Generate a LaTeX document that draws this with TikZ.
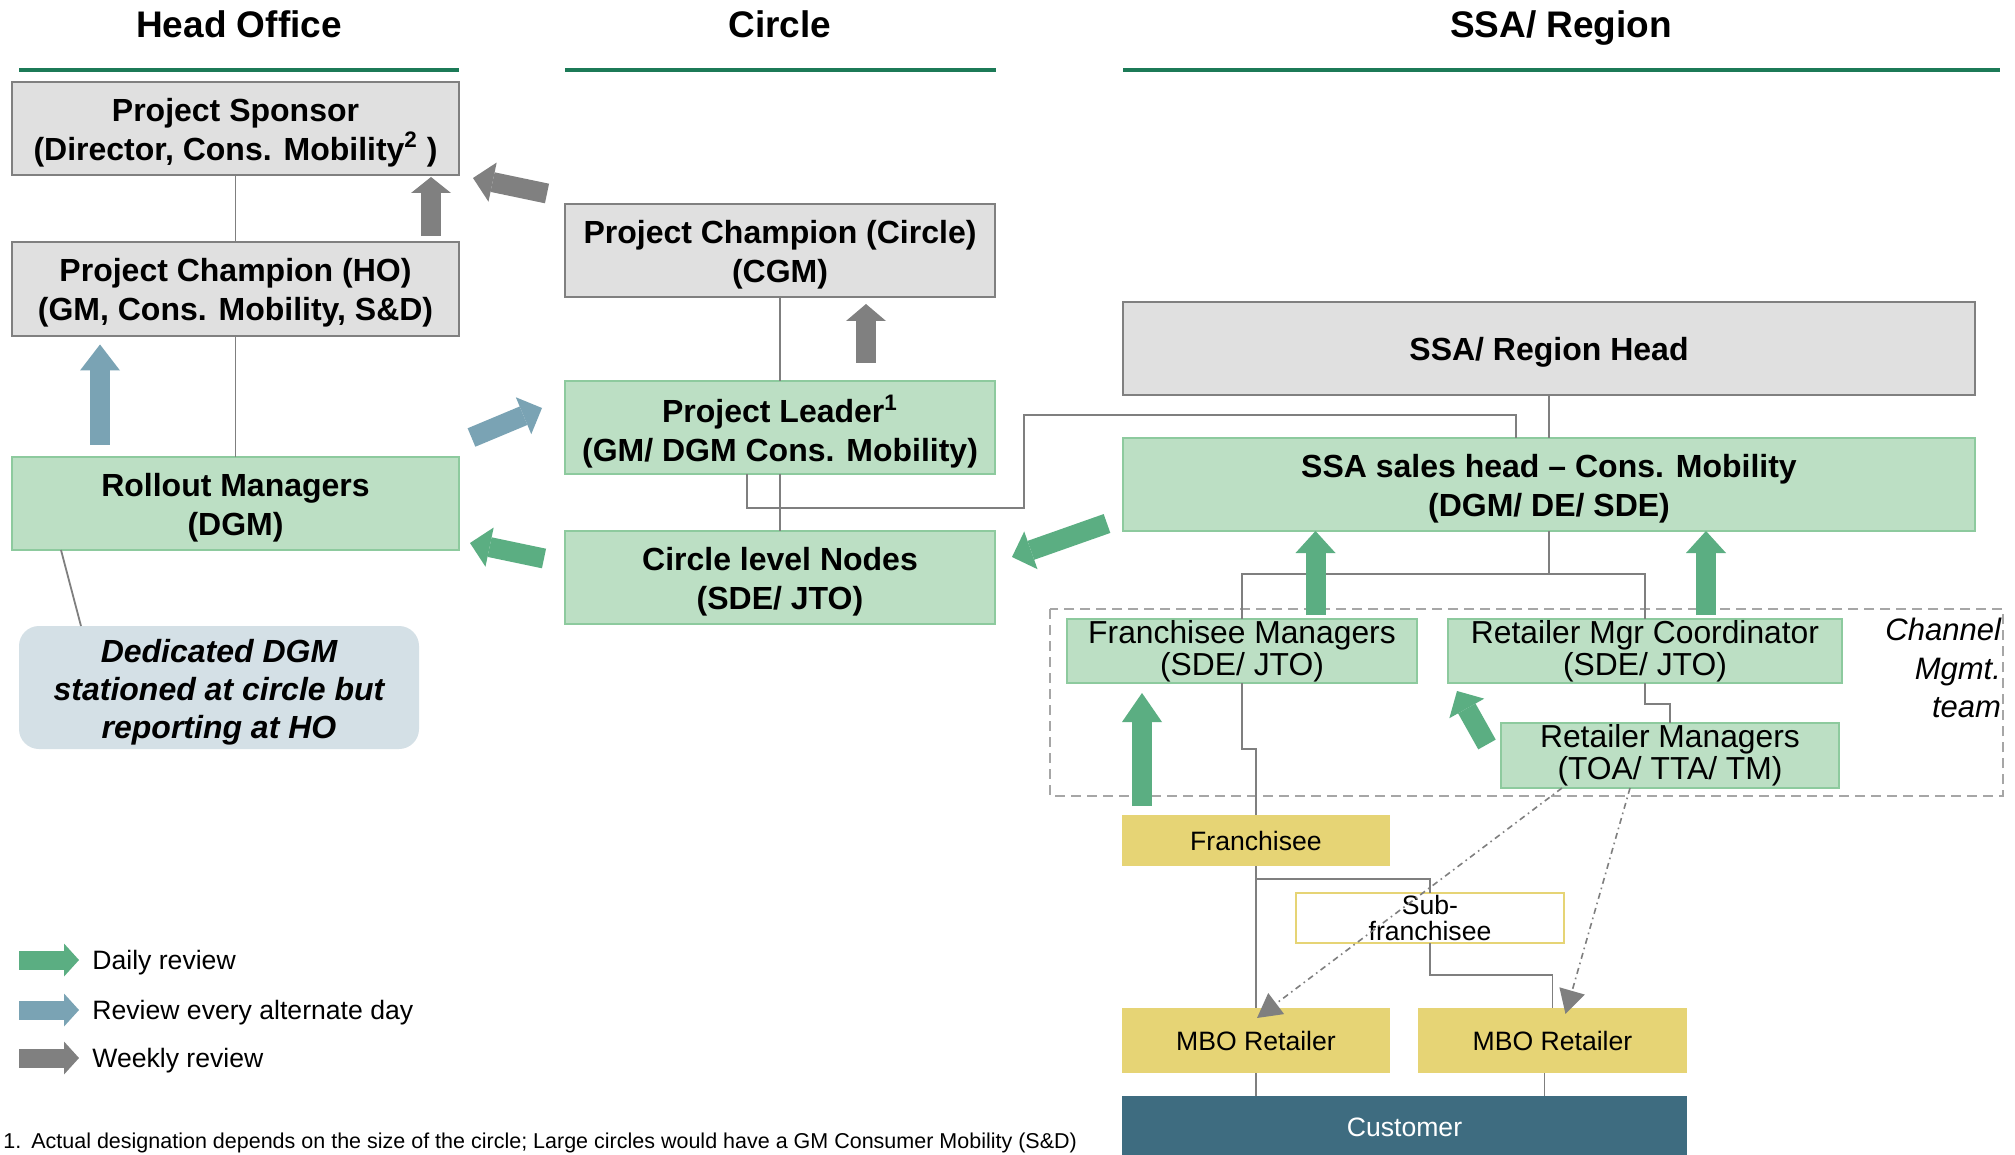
\documentclass[tikz,border=0pt]{standalone}
\usepackage{fontspec}
\setmainfont{Liberation Sans}
\usetikzlibrary{arrows.meta,calc}

\definecolor{hdgreen}{HTML}{1C7A57}
\definecolor{boxgray}{HTML}{E0E0E0}
\definecolor{edgegray}{HTML}{808080}
\definecolor{boxgreen}{HTML}{BCDFC4}
\definecolor{edgegreen}{HTML}{8DCA9E}
\definecolor{boxyellow}{HTML}{E6D475}
\definecolor{custteal}{HTML}{3E6C80}
\definecolor{notefill}{HTML}{D4E0E6}
\definecolor{arrgreen}{HTML}{5BAE82}
\definecolor{arrblue}{HTML}{7AA3B4}
\definecolor{arrgray}{HTML}{808080}
\definecolor{linegray}{HTML}{7F7F7F}
\definecolor{dashgray}{HTML}{A6A6A6}

% font sizes
\newcommand\titlefont{\fontsize{18.5}{22}\selectfont\bfseries}
\newcommand\boxfont{\fontsize{16}{19.3}\selectfont\bfseries}
\newcommand\chanfont{\fontsize{15.9}{16}\selectfont}
\newcommand\chanitfont{\fontsize{15.5}{19.3}\selectfont\itshape}
\newcommand\smallboxfont{\fontsize{13.3}{12.8}\selectfont}
\newcommand\notefont{\fontsize{16}{19}\selectfont\bfseries\itshape}
\newcommand\legendfont{\fontsize{13.3}{16}\selectfont}
\newcommand\footfont{\fontsize{10.75}{12}\selectfont}

% box from corner (x1,y1) to corner (x2,y2) with its text lowered by a drop:
% name, style, x1, y1, x2, y2, text, drop
\newcommand\placebox[8]{%
  \pgfmathsetmacro\bxw{(#5-#3)*0.5}%
  \pgfmathsetmacro\bxh{(#6-#4)*0.5}%
  \node[#2, minimum width=\bxw pt, minimum height=\bxh pt] (#1) at ({(#3+#5)/2},{(#4+#6)/2}) {};
  \node[#2, draw=none, fill=none, minimum width=0pt, minimum height=0pt] (#1-text)
    at ([yshift=-#8]#1.center) {#7};}

\tikzset{
  basebox/.style={align=center, inner sep=0pt, outer sep=0pt},
  graybox/.style={basebox, draw=edgegray, fill=boxgray, line width=1.4pt, font=\boxfont},
  greenbox/.style={basebox, draw=edgegreen, fill=boxgreen, line width=1.2pt, font=\boxfont},
  chanbox/.style={greenbox, font=\chanfont},
  yellowbox/.style={basebox, fill=boxyellow, font=\smallboxfont},
  subbox/.style={basebox, draw=boxyellow, fill=white, line width=1pt, font=\smallboxfont},
  custbox/.style={basebox, fill=custteal, text=white, font=\smallboxfont},
  notebox/.style={basebox, fill=notefill, rounded corners=10pt, font=\notefont},
  headline/.style={draw=hdgreen, line width=2.3pt},
  link/.style={draw=linegray, line width=0.9pt},
  reviewlink/.style={draw=linegray, line width=0.8pt, dash dot,
    -{Triangle[length=12pt,width=13pt]}},
  bigarr/.style={line width=10pt, -{Triangle[width=20pt,length=#1,line width=0pt]}},
  bigarr/.default=10pt,
  legarr/.style={line width=9.5pt, -{Triangle[width=16.5pt,length=7.5pt,line width=0pt]}},
}

\begin{document}
\begin{tikzpicture}[x=0.5pt, y=-0.5pt]
\fill[white] (0,0) rectangle (2015,1155);
\useasboundingbox (0,0) rectangle (2015,1155);

% column headings
\node[font=\titlefont, anchor=base] (tho) at (239,38) {Head Office};
\node[font=\titlefont, anchor=base] (tci) at (780,38) {Circle};
\node[font=\titlefont, anchor=base] (tssa) at (1561,38) {SSA/ Region};
\draw[headline] (19,70) -- (459,70);
\draw[headline] (565,70) -- (996,70);
\draw[headline] (1123,70) -- (2000,70);

% channel management team frame
\draw[dashgray, line width=1pt, dash pattern=on 5pt off 3pt] (1050,609) rectangle (2003,796);
\node[font=\chanitfont, align=right, anchor=east] (chteam) at (2008,668) {Channel\\Mgmt.\\team};

% head office
\placebox{sponsor}{graybox}{12}{82}{459}{175}{Project Sponsor\\(Director, Cons. Mobility\textsuperscript{2} )}{2pt}
\placebox{champho}{graybox}{12}{242}{459}{336}{Project Champion (HO)\\(GM, Cons. Mobility, S\&D)}{2pt}
\placebox{rollout}{greenbox}{12}{457}{459}{550}{Rollout Managers\\(DGM)}{2pt}
\placebox{dgmnote}{notebox}{19}{626}{419}{749}{Dedicated DGM\\stationed at circle but\\reporting at HO}{2.5pt}

% circle
\placebox{champc}{graybox}{565}{204}{995}{297}{Project Champion (Circle)\\(CGM)}{2pt}
\placebox{leader}{greenbox}{565}{381}{995}{474}{Project Leader\textsuperscript{1}\\(GM/ DGM Cons. Mobility)}{2pt}
\placebox{cnodes}{greenbox}{565}{531}{995}{624}{Circle level Nodes\\(SDE/ JTO)}{2pt}

% SSA / region
\placebox{ssahead}{graybox}{1123}{302}{1975}{395}{SSA/ Region Head}{2pt}
\placebox{ssasales}{greenbox}{1123}{438}{1975}{531}{SSA sales head -- Cons. Mobility\\(DGM/ DE/ SDE)}{2pt}
\placebox{fmgr}{chanbox}{1067}{619}{1417}{683}{Franchisee Managers\\(SDE/ JTO)}{0pt}
\placebox{rcoord}{chanbox}{1448}{619}{1842}{683}{Retailer Mgr Coordinator\\(SDE/ JTO)}{0pt}
\placebox{rmgr}{chanbox}{1501}{723}{1839}{788}{Retailer Managers\\(TOA/ TTA/ TM)}{0pt}
\placebox{fran}{yellowbox}{1122}{815}{1390}{866}{Franchisee}{0pt}
\placebox{subf}{subbox}{1296}{893}{1564}{943}{Sub-\\franchisee}{0pt}
\placebox{mbo1}{yellowbox}{1122}{1008}{1390}{1073}{MBO Retailer}{0pt}
\placebox{mbo2}{yellowbox}{1418}{1008}{1687}{1073}{MBO Retailer}{0pt}
\placebox{cust}{custbox}{1122}{1096}{1687}{1155}{Customer}{1pt}

% reporting lines
\draw[link] (sponsor.south) -- (champho.north);
\draw[link] (champho.south) -- (rollout.north);
\draw[link] ($(rollout.south west)+(49,0)$) -- ($(dgmnote.north west)+(62,0)$);
\draw[link] (champc.south) -- (leader.north);
\draw[link] (leader.south) -- (cnodes.north);
\coordinate (loop) at (1024,415);
\draw[link] (leader.south) ++(-33,0) -- ++(0,34) -| (loop) -| ($(ssasales.north west)+(393,0)$);
\draw[link] (ssahead.south) -- (ssasales.north);
\draw[link] (ssasales.south) -- ++(0,43) coordinate (chsplit);
\draw[link] (fmgr.north) |- (chsplit) -| (rcoord.north);
\draw[link] (fmgr.south) -- ++(0,66) -| (fran.north);
\draw[link] (rcoord.south) -- ++(0,21) -| (rmgr.north);
\draw[link] (fran.south) -- (mbo1.north);
\draw[link] (fran.south) ++(0,13) -| (subf.north);
\draw[link] (subf.south) -- ++(0,32) -| (mbo2.north);
\draw[link] (mbo1.south) -- (mbo1.south |- cust.north);
\draw[link] ($(mbo2.south)+(-8,0)$) -- ++(0,23);

% retailer managers reach the MBO retailers directly
\draw[reviewlink] ($(rmgr.south west)+(61,0)$) -- ($(mbo1.north)+(1,10)$);
\draw[reviewlink] ($(rmgr.south west)+(129,0)$) -- ($(mbo2.north)+(13,6)$);

% review arrows
\coordinate (g1a) at (431,236);   \coordinate (g1b) at (431,177);
\coordinate (g2a) at (547,193.5); \coordinate (g2b) at (473,178);
\coordinate (g3a) at (866,363);   \coordinate (g3b) at (866,304);
\coordinate (b1a) at (100,445);   \coordinate (b1b) at (100,344.5);
\coordinate (b2a) at (471.5,437.5); \coordinate (b2b) at (542,408);
\coordinate (n1a) at (544,558.5); \coordinate (n1b) at (470,543);
\coordinate (n2a) at (1107,523.5); \coordinate (n2b) at (1012,557);
\coordinate (n3a) at (1315.5,615); \coordinate (n3b) at (1315.5,531);
\coordinate (n4a) at (1706,615);  \coordinate (n4b) at (1706,531);
\coordinate (n5a) at (1142,806);  \coordinate (n5b) at (1142,693);
\coordinate (n6a) at (1487,744.5); \coordinate (n6b) at (1457,691);

\draw[bigarr=8pt, draw=arrgray] (g1a) -- (g1b);
\draw[bigarr, draw=arrgray] (g2a) -- (g2b);
\draw[bigarr=8.5pt, draw=arrgray] (g3a) -- (g3b);
\draw[bigarr=13pt, draw=arrblue] (b1a) -- (b1b);
\draw[bigarr, draw=arrblue] (b2a) -- (b2b);
\draw[bigarr, draw=arrgreen] (n1a) -- (n1b);
\draw[bigarr, draw=arrgreen] (n2a) -- (n2b);
\draw[bigarr=11pt, draw=arrgreen] (n3a) -- (n3b);
\draw[bigarr=11pt, draw=arrgreen] (n4a) -- (n4b);
\draw[bigarr=14.5pt, draw=arrgreen] (n5a) -- (n5b);
\draw[bigarr, draw=arrgreen] (n6a) -- (n6b);

% legend
\coordinate (l1a) at (19,960);  \coordinate (l1b) at (79,960);
\coordinate (l2a) at (19,1010); \coordinate (l2b) at (79,1010);
\coordinate (l3a) at (19,1058); \coordinate (l3b) at (79,1058);
\draw[legarr, draw=arrgreen] (l1a) -- (l1b);
\draw[legarr, draw=arrblue] (l2a) -- (l2b);
\draw[legarr, draw=arrgray] (l3a) -- (l3b);
\node[font=\legendfont, anchor=west, inner sep=0pt] (lg1) at (92,963) {Daily review};
\node[font=\legendfont, anchor=west, inner sep=0pt] (lg2) at (92,1013) {Review every alternate day};
\node[font=\legendfont, anchor=west, inner sep=0pt] (lg3) at (92,1061) {Weekly review};

% footnote
\node[font=\footfont, anchor=base west, inner sep=0pt] (fnote) at (3,1148)
  {1.\hspace{5pt}Actual designation depends on the size of the circle; Large circles would have a GM Consumer Mobility (S\&D)};
\end{tikzpicture}
\end{document}
